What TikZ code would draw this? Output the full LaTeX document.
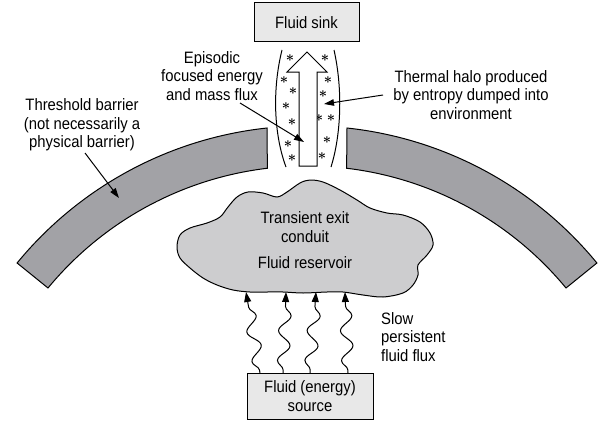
\documentclass[tikz,border=0pt]{standalone}
\usepackage{fontspec}
\setmainfont{Liberation Sans}[FakeStretch=0.9]
\usetikzlibrary{arrows.meta,decorations.pathmorphing}
\definecolor{barrier}{RGB}{162,162,166}
\definecolor{cloudc}{RGB}{205,205,207}
\definecolor{boxc}{RGB}{232,232,232}
\tikzset{
  lbl/.style={align=center, inner sep=0pt, font=\fontsize{16.5}{18.5}\selectfont},
  box/.style={draw, line width=1pt, fill=boxc, minimum width=105pt, minimum height=39pt, align=center, inner sep=0pt, font=\fontsize{16.5}{18.5}\selectfont},
  outl/.style={draw, line width=1pt},
  ptr/.style={line width=1pt, -{Triangle[length=10pt,width=6.5pt]}},
  wavy/.style={line width=1pt, decorate, decoration={snake, amplitude=6pt, segment length=30pt, pre length=3pt, post length=10pt}, -{Triangle[length=10pt,width=7pt]}},
  star/.style={inner sep=0pt, yshift=-3.5pt, font=\fontsize{14}{14}\selectfont\boldmath}
}
\begin{document}
\begin{tikzpicture}[x=1pt,y=-1pt]
\useasboundingbox (0,0) rectangle (599,420);
% barriers
\path[outl, fill=barrier] (267,128) arc[start angle=-96.12, end angle=-140.63, radius=375]
  -- (48,288) arc[start angle=-140.46, end angle=-96.79, radius=336] -- cycle;
\path[outl, fill=barrier] (347,128) arc[start angle=-83.88, end angle=-39.37, radius=375]
  -- (566,288) arc[start angle=-39.54, end angle=-83.21, radius=336] -- cycle;
% cloud
\path[outl, fill=cloudc] plot[smooth cycle, tension=0.55] coordinates {
 (177,247) (180,235) (190,228) (207,223) (220,217) (228,207) (237,197) (248,192)
 (263,193) (277,197) (287,192) (300,183) (310,180) (323,182) (340,190) (357,200)
 (370,208) (387,213) (403,215) (420,222) (430,233) (433,245) (427,255) (418,265)
 (418,275) (413,285) (403,293) (383,297) (363,295) (343,292) (327,292) (303,293)
 (283,292) (267,292) (250,292) (233,290) (217,285) (203,278) (190,268) (180,258)};
\node[lbl] (transient) at (305,227) {Transient exit\\conduit};
\node[lbl] (reservoir) at (305,263) {Fluid reservoir};
% sink and source boxes
\node[box] (sink) at (306.5,22.5) {Fluid sink};
\node[box, minimum width=126pt, minimum height=46pt] (source) at (310,396) {Fluid (energy)\\source};
% halo curves
\draw[line width=1pt] (282,50) .. controls (272,90) and (274,135) .. (286,167);
\draw[line width=1pt] (334,50) .. controls (343,90) and (341,135) .. (331,167);
% stars
\foreach \p in {(290,58),(284,80),(293,91),(286,106),(292,122),(288,144),(292,158),
                (325,58),(328,80),(323,94),(319,118),(331,118),(327,140),(322,156)}
  \node[star] at \p {\smash{$\ast$}};
% big hollow arrow
\path[outl, fill=white] (299,166) -- (299,72) -- (287,72) -- (307,52) -- (327,72) -- (317,72) -- (317,166) -- cycle;
% labels
\node[lbl] (episodic) at (212,76) {Episodic\\focused energy\\and mass flux};
\node[lbl] (thermal) at (471,95) {Thermal halo produced\\by entropy dumped into\\environment};
\node[lbl] (threshold) at (82,125) {Threshold barrier\\(not necessarily a\\physical barrier)};
\node[lbl, align=left, anchor=west] (slow) at (381,337) {Slow\\persistent\\fluid flux};
% label pointers
\coordinate (epiS) at (240,103);
\coordinate (epiT) at (304,142);
\coordinate (thS) at (383,95);
\coordinate (thT) at (324,104);
\coordinate (trS) at (85,153);
\coordinate (trT) at (119,198);
\draw[ptr] (epiS) -- (epiT);
\draw[ptr] (thS) -- (thT);
\draw[ptr] (trS) -- (trT);
% wavy flux arrows
\coordinate (w1s) at (260,373); \coordinate (w1t) at (246,292);
\coordinate (w2s) at (283,373); \coordinate (w2t) at (286,292);
\coordinate (w3s) at (310,373); \coordinate (w3t) at (316,292);
\coordinate (w4s) at (348,373); \coordinate (w4t) at (345,292);
\draw[wavy] (w1s) -- (w1t);
\draw[wavy] (w2s) -- (w2t);
\draw[wavy] (w3s) -- (w3t);
\draw[wavy] (w4s) -- (w4t);
\end{tikzpicture}
\end{document}
